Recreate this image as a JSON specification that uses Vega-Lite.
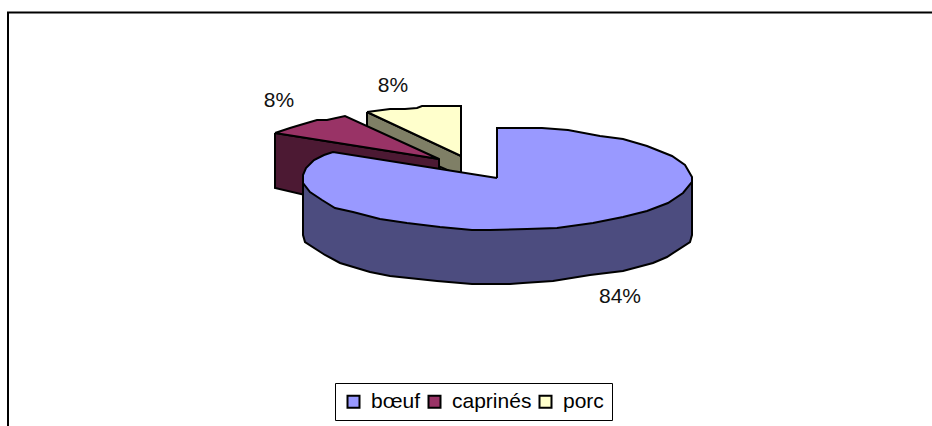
{"$schema":"https://vega.github.io/schema/vega-lite/v6.json","width":932,"height":426,"padding":0,"autosize":{"type":"none"},"background":"white","view":{"stroke":null},
"datasets":{
"porcSide":[{"x":367,"y":112,"i":0},{"x":461,"y":156,"i":1},{"x":461,"y":176,"i":2},{"x":367,"y":135,"i":3},{"x":367,"y":112,"i":4}],
"porcTop":[{"animal":"porc","x":367,"y":112,"i":0},{"animal":"porc","x":390,"y":109,"i":1},{"animal":"porc","x":405,"y":109,"i":2},{"animal":"porc","x":417,"y":108,"i":3},{"animal":"porc","x":422,"y":106,"i":4},{"animal":"porc","x":461,"y":106,"i":5},{"animal":"porc","x":461,"y":156,"i":6},{"animal":"porc","x":367,"y":112,"i":7}],
"capSide":[{"x":275,"y":133,"i":0},{"x":439,"y":159,"i":1},{"x":439,"y":172,"i":2},{"x":305,"y":195,"i":3},{"x":275,"y":188,"i":4},{"x":275,"y":133,"i":5}],
"capTop":[{"animal":"caprinés","x":275,"y":133,"i":0},{"animal":"caprinés","x":290,"y":128,"i":1},{"animal":"caprinés","x":300,"y":125,"i":2},{"animal":"caprinés","x":317,"y":120,"i":3},{"animal":"caprinés","x":327,"y":120,"i":4},{"animal":"caprinés","x":345,"y":116,"i":5},{"animal":"caprinés","x":439,"y":159,"i":6},{"animal":"caprinés","x":275,"y":133,"i":7}],
"beefSide":[{"x":303,"y":180,"i":0},{"x":303,"y":235,"i":1},{"x":305,"y":242,"i":2},{"x":325,"y":255,"i":3},{"x":340,"y":263,"i":4},{"x":370,"y":272,"i":5},{"x":390,"y":276,"i":6},{"x":437,"y":281,"i":7},{"x":472,"y":284,"i":8},{"x":510,"y":284,"i":9},{"x":523,"y":283,"i":10},{"x":553,"y":281,"i":11},{"x":590,"y":275,"i":12},{"x":623,"y":271,"i":13},{"x":653,"y":263,"i":14},{"x":667,"y":257,"i":15},{"x":690,"y":242,"i":16},{"x":692,"y":235,"i":17},{"x":692,"y":182,"i":18},{"x":303,"y":180,"i":19}],
"beefTop":[{"animal":"bœuf","x":497,"y":178,"i":0},{"animal":"bœuf","x":497,"y":128,"i":1},{"animal":"bœuf","x":542,"y":128,"i":2},{"animal":"bœuf","x":568,"y":130,"i":3},{"animal":"bœuf","x":600,"y":136,"i":4},{"animal":"bœuf","x":623,"y":139,"i":5},{"animal":"bœuf","x":647,"y":146,"i":6},{"animal":"bœuf","x":672,"y":156,"i":7},{"animal":"bœuf","x":685,"y":165,"i":8},{"animal":"bœuf","x":692,"y":177,"i":9},{"animal":"bœuf","x":692,"y":182,"i":10},{"animal":"bœuf","x":683,"y":193,"i":11},{"animal":"bœuf","x":668,"y":203,"i":12},{"animal":"bœuf","x":647,"y":211,"i":13},{"animal":"bœuf","x":623,"y":217,"i":14},{"animal":"bœuf","x":593,"y":223,"i":15},{"animal":"bœuf","x":557,"y":228,"i":16},{"animal":"bœuf","x":527,"y":229,"i":17},{"animal":"bœuf","x":490,"y":230,"i":18},{"animal":"bœuf","x":472,"y":230,"i":19},{"animal":"bœuf","x":440,"y":227,"i":20},{"animal":"bœuf","x":407,"y":223,"i":21},{"animal":"bœuf","x":380,"y":219,"i":22},{"animal":"bœuf","x":353,"y":212,"i":23},{"animal":"bœuf","x":335,"y":208,"i":24},{"animal":"bœuf","x":322,"y":200,"i":25},{"animal":"bœuf","x":310,"y":192,"i":26},{"animal":"bœuf","x":303,"y":183,"i":27},{"animal":"bœuf","x":303,"y":175,"i":28},{"animal":"bœuf","x":306,"y":168,"i":29},{"animal":"bœuf","x":314,"y":160,"i":30},{"animal":"bœuf","x":324,"y":155,"i":31},{"animal":"bœuf","x":333,"y":152,"i":32},{"animal":"bœuf","x":497,"y":178,"i":33}],
"frame":[{"x":8,"y":426,"i":0},{"x":8,"y":12.5,"i":1},{"x":932,"y":12.5,"i":2}],
"labels":[{"animal":"bœuf","label":"84%","x":620,"y":297},{"animal":"caprinés","label":"8%","x":279,"y":101},{"animal":"porc","label":"8%","x":393,"y":86}]
},
"encoding":{
"x":{"field":"x","type":"quantitative","scale":{"domain":[0,932],"nice":false,"zero":false},"axis":null},
"y":{"field":"y","type":"quantitative","scale":{"domain":[426,0],"nice":false,"zero":false},"axis":null},
"order":{"field":"i","type":"quantitative"}
},
"layer":[
{"data":{"name":"frame"},"mark":{"type":"line","stroke":"black","strokeWidth":2}},
{"data":{"name":"porcSide"},"mark":{"type":"line","fill":"#7F7F66","stroke":"black","strokeWidth":2}},
{"data":{"name":"porcTop"},"mark":{"type":"line","stroke":"black","strokeWidth":2},"encoding":{"fill":{"field":"animal","type":"nominal"}}},
{"data":{"name":"capSide"},"mark":{"type":"line","fill":"#4C1933","stroke":"black","strokeWidth":2}},
{"data":{"name":"capTop"},"mark":{"type":"line","stroke":"black","strokeWidth":2},"encoding":{"fill":{"field":"animal","type":"nominal"}}},
{"data":{"name":"beefSide"},"mark":{"type":"line","fill":"#4C4C7F","stroke":"black","strokeWidth":2}},
{"data":{"name":"beefTop"},"mark":{"type":"line","stroke":"black","strokeWidth":2},"encoding":{"fill":{"field":"animal","type":"nominal","scale":{"domain":["bœuf","caprinés","porc"],"range":["#9999FF","#993366","#FFFFCC"]},"legend":{"title":null,"orient":"none","legendX":335,"legendY":383,"direction":"horizontal","symbolType":"square","symbolSize":144,"symbolStrokeColor":"black","symbolStrokeWidth":2,"labelFont":"Liberation Sans","labelFontSize":21,"labelColor":"black","labelOffset":7,"columnPadding":3,"padding":8,"strokeColor":"black","fillColor":"white","symbolOpacity":1}}}},
{"data":{"name":"labels"},"mark":{"type":"text","font":"Liberation Sans","fontSize":21,"color":"#111111","align":"center","baseline":"middle"},"encoding":{"text":{"field":"label","type":"nominal"},"order":{"value":null}}}
]}
